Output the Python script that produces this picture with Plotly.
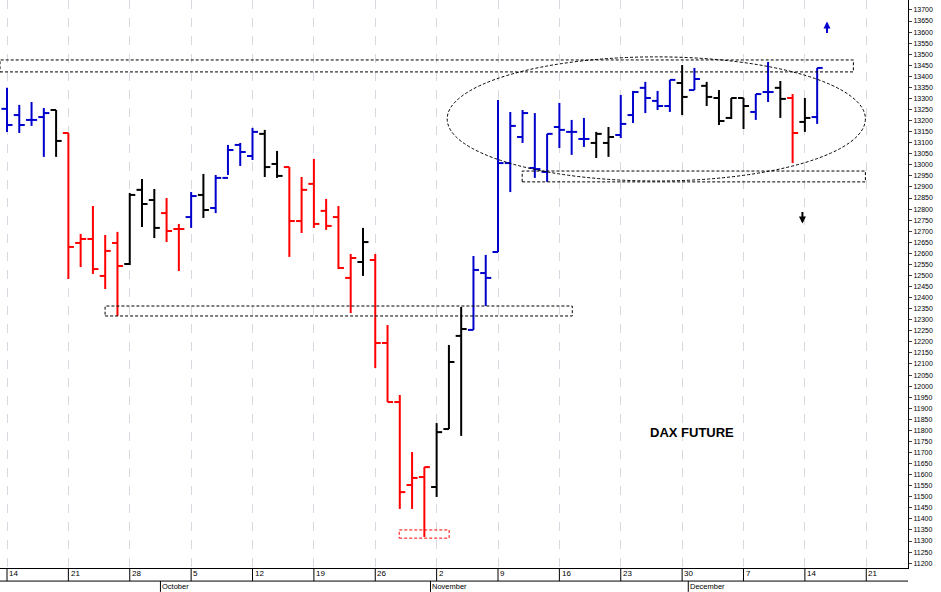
import plotly.graph_objects as go

opens  = [13253,13225,13203,13216,13248,13144,12647,12665,12498,12647,12552,12887,12841,12782,12710,12764,12864,12805,12941,13090,
          13040,13140,13004,12990,12746,12914,12792,12764,12489,12561,12570,12195,11928,11553,11589,11544,11806,12227,12254,12511,
          12606,13008,13126,12986,12968,13171,13149,13117,13099,13099,13135,13225,13348,13289,13266,13370,13338,13357,13302,13212,
          13302,13239,13329,13348,13302,13194,13216]
highs  = [13348,13271,13284,13257,13248,13144,12688,12814,12683,12697,12873,12936,12891,12850,12733,12877,12959,12954,13090,13099,
          13167,13158,13063,12990,12945,13027,12846,12814,12597,12715,12597,12276,11960,11702,11634,11833,12186,12358,12588,12593,
          13293,13239,13248,13234,13140,13280,13203,13212,13149,13171,13316,13334,13375,13334,13384,13451,13438,13375,13338,13302,
          13302,13320,13465,13379,13320,13302,13438]
lows   = [13149,13144,13176,13036,13036,12484,12538,12507,12439,12317,12547,12719,12669,12651,12520,12715,12760,12782,12954,12995,
          13022,12945,12941,12584,12692,12715,12706,12529,12330,12498,12082,11928,11445,11445,11318,11499,11806,11775,12254,12362,
          12606,12877,13099,12941,12923,13076,13045,13081,13031,13036,13121,13189,13234,13248,13239,13225,13338,13266,13180,13207,
          13162,13203,13284,13212,13008,13149,13185]
closes = [13180,13180,13203,13234,13108,12629,12665,12529,12611,12543,12864,12823,12715,12701,12710,12859,12796,12941,13067,13058,
          13149,12990,12950,12746,12887,12733,12724,12534,12579,12651,12195,11928,11521,11585,11634,11792,12109,12258,12525,12489,
          13008,13176,13234,12981,13140,13158,13149,13117,13140,13126,13185,13329,13302,13266,13384,13307,13388,13307,13198,13302,
          13266,13320,13329,13298,13144,13212,13438]
colors = ["b","b","b","b","k","r","r","r","r","r","k","k","k","r","r","b","k","b","b","b",
          "b","k","k","r","r","r","r","r","r","k","r","r","r","r","r","k","k","k","b","b",
          "b","b","b","b","b","b","b","b","k","k","b","b","b","b","b","k","b","k","k","k",
          "k","b","b","k","r","k","b"]
day_ticks = [0,5,10,15,20,25,30,35,40,45,50,55,60,65,70]
day_labels = ["14","21","28","5","12","19","26","2","9","16","23","30","7","14","21"]
months = [("October",13),("November",35),("December",56)]

cmap = {"b":"#0000cc","k":"#000000","r":"#ff0000"}
fig = go.Figure()
for c in ["k","r","b"]:
    xs, ys = [], []
    for i,(o,h,l,cl,cc) in enumerate(zip(opens,highs,lows,closes,colors)):
        if cc != c: continue
        xs += [i,i,None,i-0.45,i,None,i,i+0.45,None]
        ys += [h,l,None,o,o,None,cl,cl,None]
    fig.add_trace(go.Scatter(x=xs,y=ys,mode="lines",line=dict(color=cmap[c],width=2),hoverinfo="skip",showlegend=False))

X0, X1 = -0.57, 73.4
dash = dict(color="black",width=1,dash="3px,2px")
fig.add_shape(type="rect",x0=X0,x1=68.95,y0=13420,y1=13474,line=dash)
fig.add_shape(type="rect",x0=7.99,x1=46.05,y0=12317,y1=12362,line=dash)
fig.add_shape(type="rect",x0=41.97,x1=69.93,y0=12923,y1=12972,line=dash)
fig.add_shape(type="rect",x0=31.95,x1=36.02,y0=11313,y1=11350,line=dict(color="red",width=1,dash="3px,2px"))
fig.add_shape(type="circle",x0=35.86,x1=69.93,y0=12927,y1=13488,line=dict(color="black",width=1,dash="3px,2px"))

fig.add_annotation(x=66.8,y=13648,ax=0,ay=13,text="",showarrow=True,arrowhead=2,arrowsize=0.7,arrowwidth=2,arrowcolor="#0000cc")
fig.add_annotation(x=64.8,y=12735,ax=0,ay=-13,text="",showarrow=True,arrowhead=2,arrowsize=0.7,arrowwidth=2,arrowcolor="black")
fig.add_annotation(x=55.8,y=11790,text="<b>DAX FUTURE</b>",showarrow=False,font=dict(size=13,color="black",family="Liberation Sans"))

for t,lab in zip(day_ticks,day_labels):
    fig.add_shape(type="line",xref="x",yref="paper",x0=t,x1=t,y0=0,y1=-0.023,line=dict(color="black",width=1))
    fig.add_annotation(x=t+0.1,y=0,xref="x",yref="paper",text=lab,showarrow=False,xanchor="left",yanchor="top",
                       font=dict(size=8,color="black"),borderpad=0)
for m,d in months:
    fig.add_shape(type="line",xref="x",yref="paper",x0=d-0.5,x1=d-0.5,y0=-0.023,y1=-0.042,line=dict(color="black",width=1))
    fig.add_annotation(x=d-0.45,y=-0.023,xref="x",yref="paper",text=m,showarrow=False,xanchor="left",yanchor="top",
                       font=dict(size=7.5,color="black"),borderpad=0)
fig.add_shape(type="line",xref="paper",yref="paper",x0=0,x1=1,y0=-0.023,y1=-0.023,line=dict(color="black",width=1))

fig.update_layout(width=941,height=592,margin=dict(l=0,r=33,t=0,b=24,autoexpand=False),plot_bgcolor="white",paper_bgcolor="white",
                  font=dict(family="Liberation Sans",size=8,color="black"))
fig.update_xaxes(range=[X0,X1],tickvals=day_ticks,showticklabels=False,showgrid=True,griddash="dash",gridcolor="#d8d8e0",
                 gridwidth=1,zeroline=False,showline=True,linecolor="black",mirror=False,automargin=False)
fig.update_yaxes(range=[11178,13745],side="right",dtick=50,tick0=11200,tickformat="d",showgrid=False,zeroline=False,showline=True,
                 linecolor="black",ticks="outside",ticklen=3,tickfont=dict(size=7,family="Liberation Sans Narrow, Liberation Sans"),
                 automargin=False)
fig.write_html("out.html", config={"displayModeBar": False}, post_script="document.body.style.margin='0px';")
